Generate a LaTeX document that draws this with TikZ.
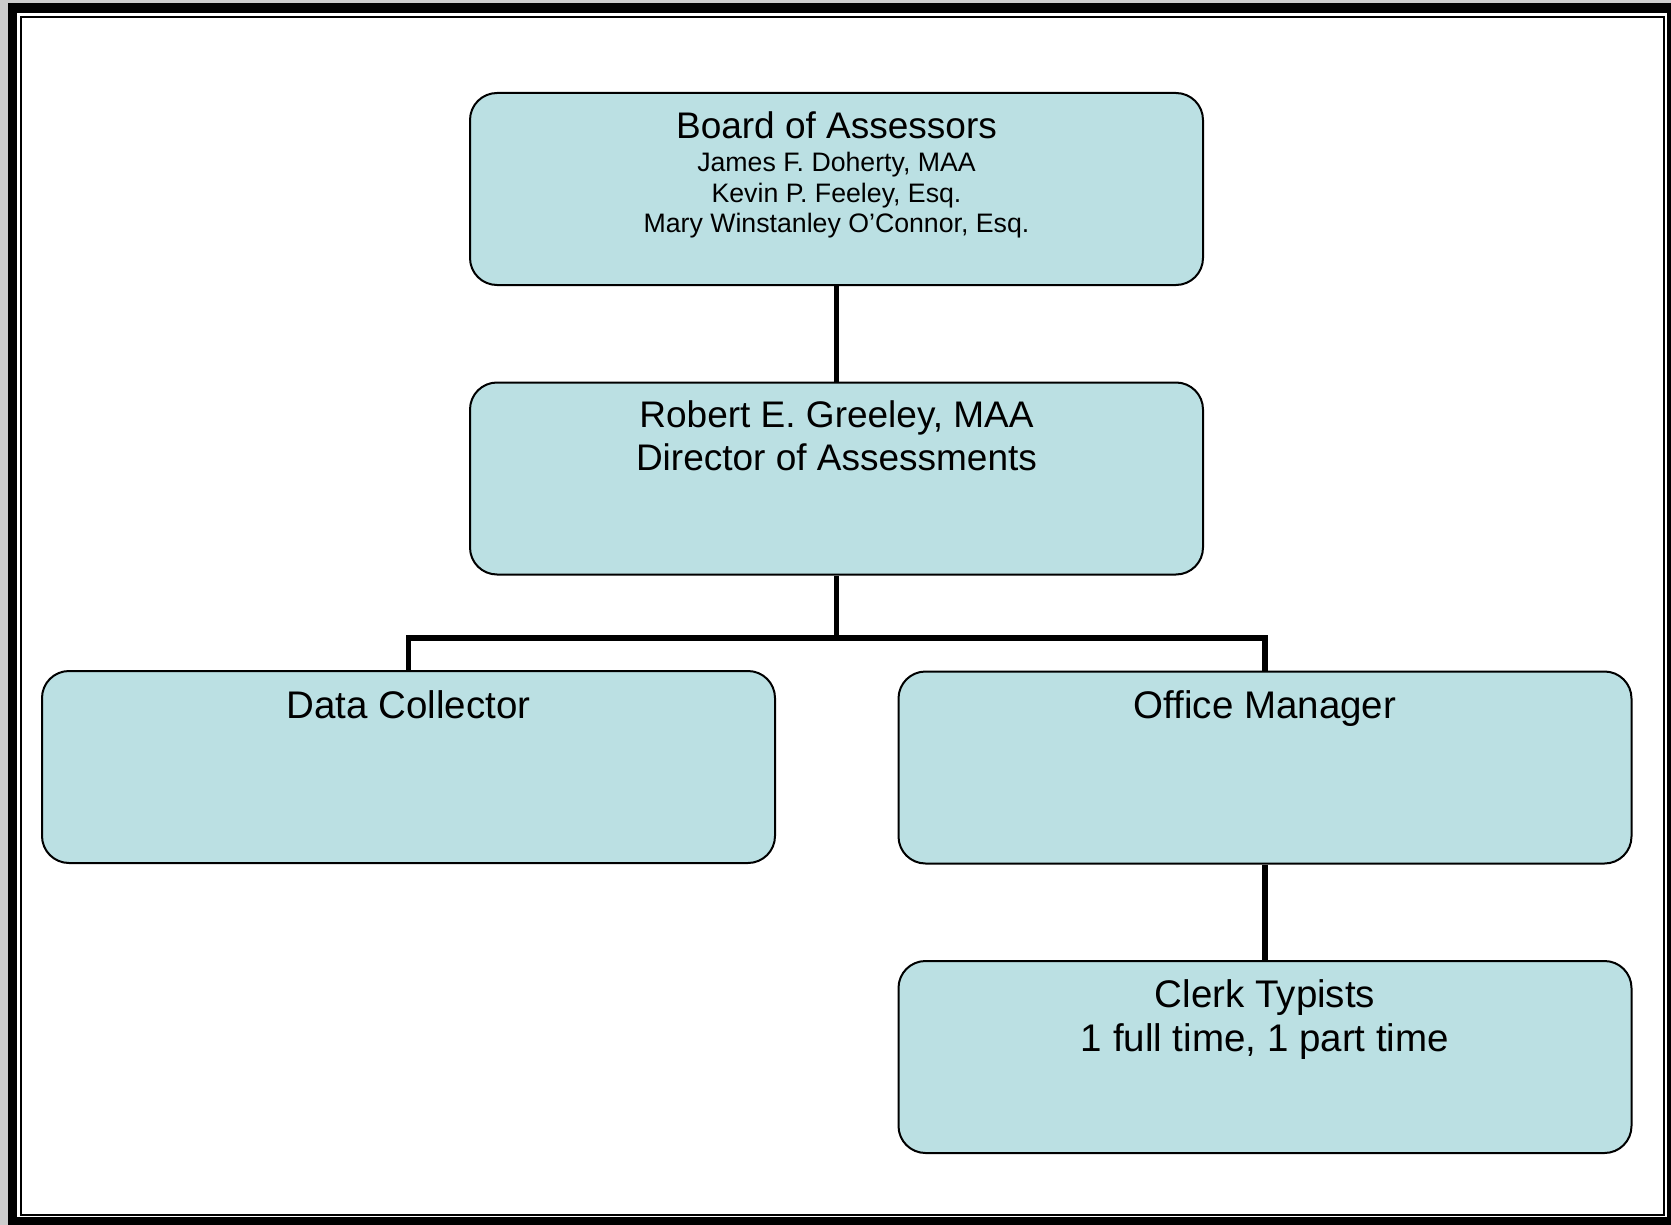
\documentclass[tikz,border=0pt]{standalone}
\usepackage{fontspec}
\setmainfont{Liberation Sans}
\definecolor{boxfill}{RGB}{187,224,227}
\definecolor{pagegray}{RGB}{204,204,204}
\begin{document}
\begin{tikzpicture}[x=1pt,y=-1pt,
  orgbox/.style={draw=black, line width=2pt, fill=boxfill, rounded corners=27pt,
    minimum width=733pt, minimum height=192pt, inner sep=0pt, rectangle},
  conn/.style={draw=black, line width=5.5pt, line join=miter},
  big/.style={anchor=base, inner sep=0pt, font=\fontsize{37}{42}\selectfont},
  bigger/.style={anchor=base, inner sep=0pt, font=\fontsize{38.5}{44}\selectfont},
  small/.style={anchor=base, inner sep=0pt, font=\fontsize{26.7}{31}\selectfont}]
\useasboundingbox (0,0) rectangle (1671,1225);
% frame
\fill[pagegray] (0,0) rectangle (1671,1225);
\fill[black] (8,3) rectangle (1671,1225);
\fill[white] (17,13) rectangle (1667,1217);
\draw[black, line width=2pt] (21,17.5) rectangle (1663.5,1214.5);
% boxes
\node[orgbox] (board) at (836.5,189) {};
\node[orgbox] (dir) at (836.5,478.5) {};
\node[orgbox] (dc) at (408.5,767) {};
\node[orgbox] (om) at (1265,767.5) {};
\node[orgbox] (clerk) at (1265,1057) {};
% connectors
\coordinate (bus) at (836.5,638);
\draw[conn] (board.south) -- (dir.north);
\draw[conn] (dir.south) -- (bus);
\draw[conn] (dc.north) |- (bus) -| (om.north);
\draw[conn] (om.south) -- (clerk.north);
% texts
\node[big] (t1) at (836.5,139) {Board of Assessors};
\node[small] (t2) at (836.5,171.5) {James F. Doherty, MAA};
\node[small] (t3) at (836.5,202.5) {Kevin P. Feeley, Esq.};
\node[small] (t4) at (836.5,232.5) {Mary Winstanley O’Connor, Esq.};
\node[big] (t5) at (836.5,427) {Robert E. Greeley, MAA};
\node[big] (t6) at (836.5,470) {Director of Assessments};
\node[bigger] (t7) at (408.5,718) {Data Collector};
\node[bigger] (t8) at (1265,718) {Office Manager};
\node[bigger] (t9) at (1265,1007) {Clerk Typists};
\node[bigger] (t10) at (1265,1051) {1 full time, 1 part time};
\end{tikzpicture}
\end{document}
